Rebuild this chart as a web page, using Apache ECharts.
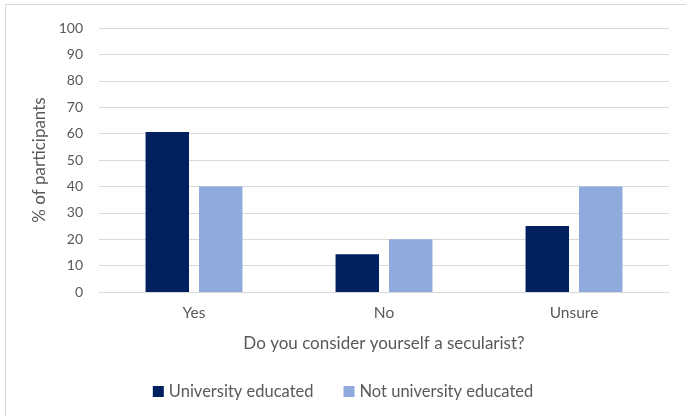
<!DOCTYPE html>
<html><head><meta charset="utf-8">
<script src="https://cdn.jsdelivr.net/npm/echarts@6/dist/echarts.min.js"></script>
<style>
html,body{margin:0;padding:0;background:#fff;}
#frame{position:absolute;left:5px;top:4px;width:690px;height:420px;border:1px solid #d9d9d9;box-sizing:border-box;}
#c{position:absolute;left:0;top:0;width:686px;height:416px;}
</style></head><body>
<div id="frame"></div>
<div id="c"></div>
<script>
const categories = ['Yes', 'No', 'Unsure'];
const universityEducated = [60.6, 14.3, 25];
const notUniversityEducated = [40, 20, 40];
const yTicks = {min: 0, max: 100, interval: 10};

const chart = echarts.init(document.getElementById('c'), null, {renderer: 'canvas'});
const font = 'Lato, "Open Sans", sans-serif';
chart.setOption({
  animation: false,
  grid: {left: 99, right: 17, top: 28, bottom: 124},
  legend: {
    bottom: 11, left: 'center', itemWidth: 11, itemHeight: 11, itemGap: 30,
    icon: 'rect',
    textStyle: {color: '#595959', fontSize: 16.5, fontFamily: font},
    data: ['University educated', 'Not university educated']
  },
  xAxis: {
    type: 'category', data: categories,
    name: 'Do you consider yourself a secularist?',
    nameLocation: 'middle', nameGap: 43,
    nameTextStyle: {color: '#595959', fontSize: 17, fontFamily: font},
    axisLine: {show: true, lineStyle: {color: '#d9d9d9', width: 1}},
    axisTick: {show: false},
    axisLabel: {color: '#595959', fontSize: 15.5, fontFamily: font, margin: 13}
  },
  yAxis: {
    type: 'value', min: yTicks.min, max: yTicks.max, interval: yTicks.interval,
    name: '% of participants', nameLocation: 'middle', nameGap: 48, nameRotate: 90,
    nameTextStyle: {color: '#595959', fontSize: 17, fontFamily: font},
    axisLine: {show: false}, axisTick: {show: false},
    axisLabel: {color: '#595959', fontSize: 14, fontFamily: font, margin: 16},
    splitLine: {lineStyle: {color: '#d9d9d9', width: 1}}
  },
  series: [
    {name: 'University educated', type: 'bar', data: universityEducated,
     itemStyle: {color: '#002060'}, barGap: '23%', barCategoryGap: '49%'},
    {name: 'Not university educated', type: 'bar', data: notUniversityEducated,
     itemStyle: {color: '#8faadc'}}
  ]
});
</script>
</body></html>
